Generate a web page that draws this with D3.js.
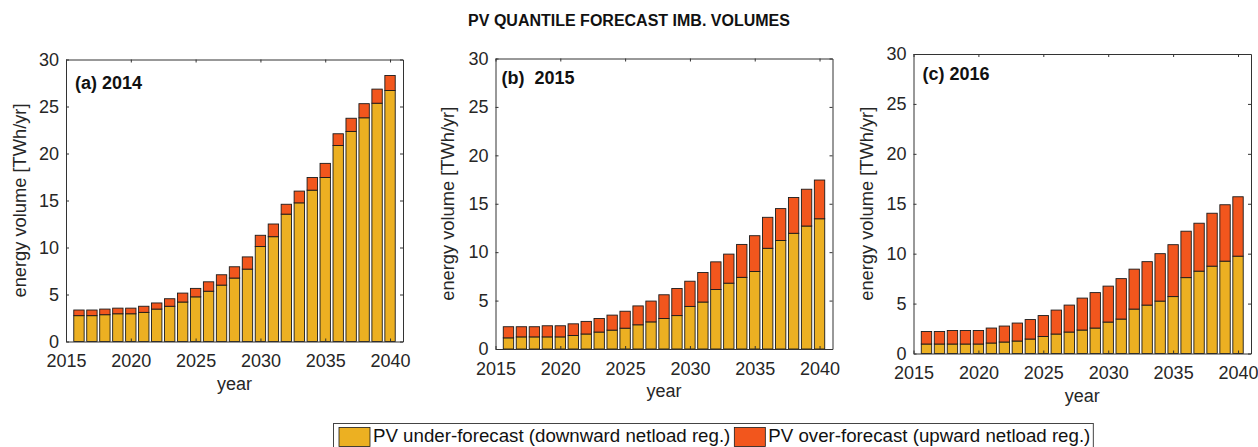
<!DOCTYPE html>
<html>
<head>
<meta charset="utf-8">
<script src="https://cdn.jsdelivr.net/npm/d3@7"></script>
<style>
  html, body { margin: 0; padding: 0; background: #fff; }
  svg { display: block; font-family: "Liberation Sans", Arial, Helvetica, sans-serif; }
</style>
</head>
<body>
<svg id="chart" width="1258" height="447"></svg>
<script>
// Forecast years shown on every panel
const years = d3.range(2016, 2041);
const xTicks = [2015, 2020, 2025, 2030, 2035, 2040];
const yTicks = [0, 5, 10, 15, 20, 25, 30];

// (a) 2014 model — imbalance volumes in TWh/yr
const under2014 = [2.75, 2.75, 2.85, 2.95, 2.95, 3.1, 3.45, 3.75, 4.2, 4.75, 5.35, 6.0, 6.75, 7.7, 10.1, 11.15, 13.55, 14.75, 16.1, 17.45, 20.85, 22.35, 23.8, 25.35, 26.7];
const over2014  = [0.6, 0.6, 0.6, 0.6, 0.6, 0.65, 0.65, 0.8, 0.95, 0.9, 1.0, 1.1, 1.2, 1.3, 1.2, 1.35, 1.05, 1.25, 1.35, 1.5, 1.25, 1.4, 1.5, 1.5, 1.6];

// (b) 2015 model
const under2015 = [1.15, 1.25, 1.25, 1.25, 1.25, 1.4, 1.55, 1.75, 1.95, 2.15, 2.5, 2.8, 3.15, 3.45, 4.4, 4.85, 6.15, 6.8, 7.4, 8.0, 10.4, 11.2, 11.95, 12.7, 13.45];
const over2015  = [1.15, 1.05, 1.05, 1.15, 1.15, 1.2, 1.3, 1.4, 1.55, 1.75, 1.95, 2.15, 2.45, 2.8, 2.6, 3.05, 2.85, 3.0, 3.4, 3.7, 3.2, 3.3, 3.7, 3.8, 4.0];

// (c) 2016 model
const under2016 = [0.95, 0.95, 0.95, 0.95, 0.95, 1.05, 1.15, 1.25, 1.45, 1.7, 1.95, 2.15, 2.35, 2.55, 3.15, 3.45, 4.45, 4.85, 5.25, 5.7, 7.6, 8.25, 8.75, 9.25, 9.75];
const over2016  = [1.25, 1.25, 1.35, 1.35, 1.35, 1.5, 1.6, 1.8, 1.95, 2.1, 2.4, 2.7, 3.2, 3.55, 3.6, 4.05, 4.0, 4.35, 4.75, 5.2, 4.65, 4.8, 5.3, 5.65, 5.95];

const seriesNames = ["PV under-forecast (downward netload reg.)", "PV over-forecast (upward netload reg.)"];
const panelLabels = ["(a) 2014", "(b)\u00a0\u00a02015", "(c) 2016"];
const titleText = "PV QUANTILE FORECAST IMB. VOLUMES";
const yLabel = "energy volume [TWh/yr]";
const xLabel = "year";

const colors = ["#ECB022", "#F2561D"];
const axisColor = "#333";

const svg = d3.select("#chart");

svg.append("text")
  .attr("x", 629).attr("y", 26)
  .attr("text-anchor", "middle")
  .attr("font-size", 16).attr("font-weight", "bold")
  .attr("fill", "#111")
  .text(titleText);

const panels = [
  { label: panelLabels[0], under: under2014, over: over2014, box: { l: 66, r: 403, t: 59.5, b: 341.5 }, lab: [9, 29], ylx: 20 },
  { label: panelLabels[1], under: under2015, over: over2015, box: { l: 495.5, r: 832.5, t: 58.5, b: 349 }, lab: [6, 25], ylx: 448 },
  { label: panelLabels[2], under: under2016, over: over2016, box: { l: 913.5, r: 1251, t: 54, b: 353.5 }, lab: [9, 26], ylx: 867 }
];

panels.forEach(p => {
  const { l, r, t, b } = p.box;
  const x = d3.scaleLinear().domain([2015, 2041]).range([l, r]);
  const y = d3.scaleLinear().domain([0, 30]).range([b, t]);
  const bw = x(2015.8) - x(2015);

  const rows = years.map((yr, i) => ({ year: yr, under: p.under[i], over: p.over[i] }));
  const stacked = d3.stack().keys(["under", "over"])(rows);

  const g = svg.append("g");

  // stacked bars
  stacked.forEach((layer, k) => {
    g.append("g").selectAll("rect")
      .data(layer)
      .join("rect")
      .attr("x", d => x(d.data.year) - bw / 2)
      .attr("width", bw)
      .attr("y", d => y(d[1]))
      .attr("height", d => y(d[0]) - y(d[1]))
      .attr("fill", colors[k])
      .attr("stroke", "#1b1b1b")
      .attr("stroke-width", 0.9);
  });

  // axes: ticks point inward on all four sides
  const fontSize = 18;
  const bottom = g.append("g").attr("transform", `translate(0,${b})`)
    .call(d3.axisBottom(x).tickValues(xTicks).tickFormat(d3.format("d")).tickSizeInner(-3).tickSizeOuter(0).tickPadding(13));
  const left = g.append("g").attr("transform", `translate(${l},0)`)
    .call(d3.axisLeft(y).tickValues(yTicks).tickSizeInner(-3).tickSizeOuter(0).tickPadding(7));
  const top = g.append("g").attr("transform", `translate(0,${t})`)
    .call(d3.axisTop(x).tickValues(xTicks).tickFormat("").tickSizeInner(-3).tickSizeOuter(0));
  const right = g.append("g").attr("transform", `translate(${r},0)`)
    .call(d3.axisRight(y).tickValues(yTicks).tickFormat("").tickSizeInner(-3).tickSizeOuter(0));

  [bottom, left, top, right].forEach(ax => {
    ax.select(".domain").attr("stroke", axisColor).attr("stroke-width", 1);
    ax.selectAll(".tick line").attr("stroke", axisColor);
    ax.selectAll("text").attr("font-size", fontSize).attr("fill", "#262626")
      .attr("font-family", "Liberation Sans, Arial, sans-serif");
  });

  // panel label
  g.append("text")
    .attr("x", l + p.lab[0]).attr("y", t + p.lab[1])
    .attr("font-size", 18).attr("font-weight", "bold").attr("fill", "#111")
    .text(p.label);

  // axis titles
  g.append("text")
    .attr("transform", `translate(${p.ylx},${(t + b) / 2}) rotate(-90)`)
    .attr("text-anchor", "middle").attr("dy", "0.35em")
    .attr("font-size", 18.3).attr("fill", "#262626")
    .text(yLabel);
  g.append("text")
    .attr("x", (l + r) / 2).attr("y", b + 48)
    .attr("text-anchor", "middle")
    .attr("font-size", 18).attr("fill", "#262626")
    .text(xLabel);
});

// legend along the bottom edge
const legend = svg.append("g");
const legBox = legend.append("rect")
  .attr("x", 333.5).attr("y", 423.5).attr("height", 40)
  .attr("fill", "#fff").attr("stroke", "#444").attr("stroke-width", 1);
let cx = 339;
seriesNames.forEach((name, k) => {
  legend.append("rect")
    .attr("x", cx).attr("y", 427.5).attr("width", 31).attr("height", 19)
    .attr("fill", colors[k]).attr("stroke", "#1b1b1b").attr("stroke-width", 0.8);
  const txt = legend.append("text")
    .attr("x", cx + 34).attr("y", 441.5)
    .attr("font-size", 18.7).attr("fill", "#111")
    .text(name);
  cx = cx + 34 + txt.node().getComputedTextLength() + 4;
});
legBox.attr("width", cx - 333.5 - 1);
</script>
</body>
</html>
